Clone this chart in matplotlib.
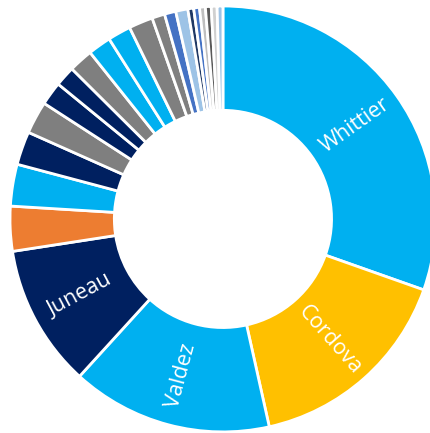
import matplotlib.pyplot as plt
import numpy as np

# Share of calls by port, largest first, then the long tail
ports = ['Whittier', 'Cordova', 'Valdez', 'Juneau', 'p5', 'p6', 'p7', 'p8', 'p9', 'p10',
         'p11', 'p12', 'p13', 'p14', 'p15', 'p16', 'p17',
         'p18', 'p19', 'p20', 'p21', 'p22', 'p23']
shares = [30.4, 16.1, 15.25, 10.8, 3.4, 3.17, 2.53, 2.47, 1.78, 1.53,
          1.83, 1.75, 1.75, 1.83, 0.97, 0.86, 0.92,
          0.44, 0.44, 0.44, 0.44, 0.44, 0.44]
shown = ['Whittier', 'Cordova', 'Valdez', 'Juneau']

sky = '#00B0F0'
gold = '#FFC000'
navy = '#002060'
orange = '#ED7D31'
gray = '#7F7F7F'
blue = '#4472C4'
pale = '#9DC3E6'
colors = [sky, gold, sky, navy, orange, sky, navy, gray, navy, navy,
          gray, sky, sky, gray, gray, blue, pale,
          '#1F3864', blue, '#BFBFBF', '#595959', '#D0D0D0', pale]

plt.rcParams['font.family'] = ['Open Sans', 'DejaVu Sans']

fig = plt.figure(figsize=(4.31, 4.33), dpi=100)
ax = fig.add_axes([0, 0, 1, 1])

ring = 0.49
wedges, _ = ax.pie(shares, colors=colors, startangle=90, counterclock=False,
                   radius=1.0, wedgeprops=dict(width=ring, edgecolor='white', linewidth=2))

# Labels sit mid-ring, rotated along the radius
for w, name in zip(wedges, ports):
    if name not in shown:
        continue
    ang = (w.theta1 + w.theta2) / 2
    r = 0.76
    x = r * np.cos(np.radians(ang))
    y = r * np.sin(np.radians(ang))
    rot = ang if np.cos(np.radians(ang)) >= 0 else ang + 180
    if rot > 180:
        rot -= 360
    ax.text(x, y, name, color='white', fontsize=15.5, rotation=rot,
            rotation_mode='anchor', ha='center', va='center')

ax.set_xlim(-1.047, 0.977)
ax.set_ylim(-1.005, 1.028)
ax.set_aspect('equal')
ax.axis('off')

fig.savefig('out.png', dpi=100)
